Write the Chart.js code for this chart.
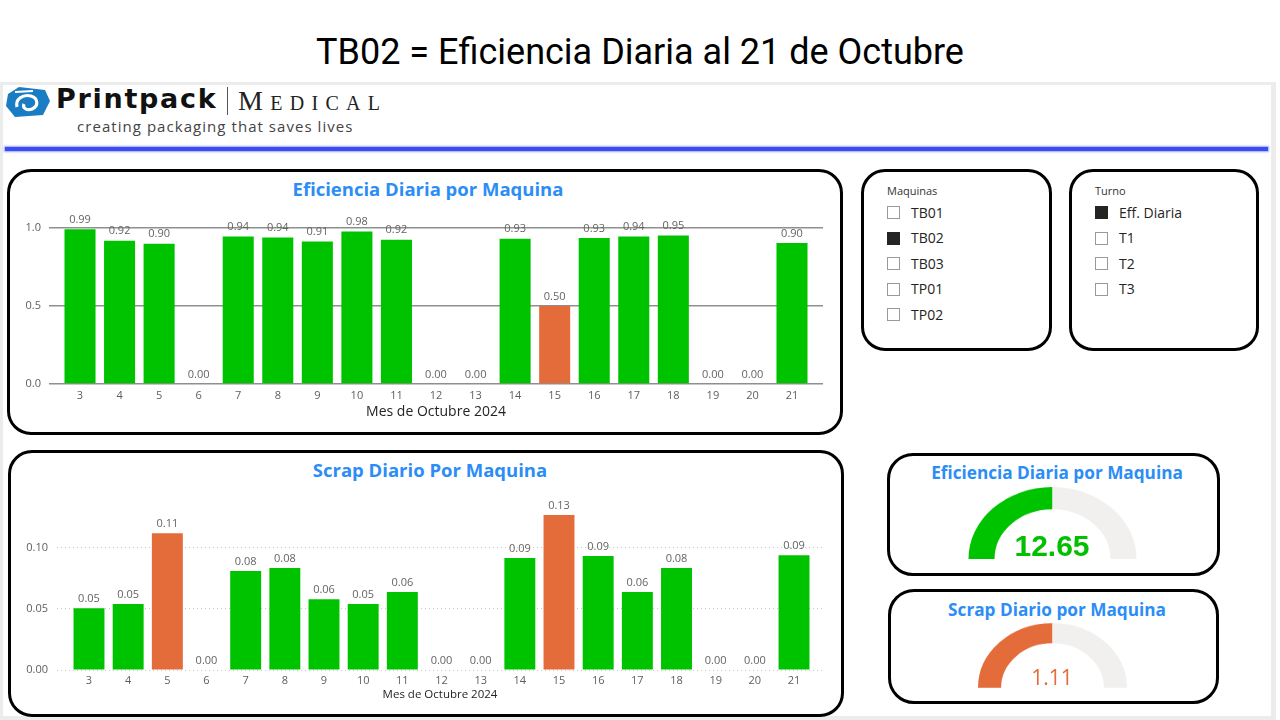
<!DOCTYPE html>
<html><head><meta charset="utf-8">
<script src="https://cdn.jsdelivr.net/npm/chart.js@4.4.1/dist/chart.umd.min.js"></script>
<style>
html,body{margin:0;padding:0;background:#fff;width:1280px;height:720px;overflow:hidden;font-family:"Open Sans",sans-serif;}
.abs{position:absolute;}
#title{left:0;top:28px;width:1280px;text-align:center;font-family:Roboto,sans-serif;font-size:36px;color:#000;line-height:48px;}
#frame{left:0;top:82px;width:1276px;height:638px;background:#ececec;}
#inner{left:3px;top:85px;width:1268px;height:631px;background:#fff;}
#bluebar{left:5px;top:147px;width:1263px;height:4px;background:#3a4cf2;box-shadow:0 0 2px 1px #9aa4f8;}
.panel{position:absolute;border:3px solid #000;border-radius:24px;box-sizing:border-box;background:#fff;}
.ptitle{position:absolute;text-align:center;font-family:"Open Sans",sans-serif;font-weight:bold;color:#2b8df5;white-space:nowrap;}
.slicer-h{position:absolute;font-size:11px;color:#333;}
.item{position:absolute;font-size:14px;color:#252423;line-height:16px;}
.box{position:absolute;width:13px;height:13px;border:1px solid #9c9a98;box-sizing:border-box;background:#fff;}
.box.on{background:#252423;border-color:#252423;}
.gval{position:absolute;text-align:center;white-space:nowrap;}
</style></head>
<body>
<div id="title" class="abs">TB02 = Eficiencia Diaria al 21 de Octubre</div>
<div id="frame" class="abs"></div>
<div id="inner" class="abs"></div>

<!-- logo -->
<svg class="abs" style="left:5px;top:86px" width="46" height="32" viewBox="0 0 46 32">
  <path d="M14 1 L40 4 L45 15 L38 29 L10 31 L1 20 L3 8 Z" fill="#1a7cc2"/>
  <path d="M12 21 C10 13 18 8 26 10 C33 12 34 20 27 23 C22 25 17 22 19 18" fill="none" stroke="#fff" stroke-width="3.2"/>
  <path d="M10 6 L28 5" stroke="#fff" stroke-width="2"/>
</svg>
<div class="abs" style="left:56px;top:83px;font-family:'DejaVu Sans',sans-serif;font-weight:bold;font-size:27px;color:#111;letter-spacing:1.7px;">Printpack</div>
<div class="abs" style="left:227px;top:87px;width:1px;height:28px;background:#555;"></div>
<div class="abs" style="left:238px;top:85px;font-family:'Liberation Serif','DejaVu Serif',serif;font-size:28px;color:#222;font-variant:small-caps;letter-spacing:7.3px;">Medical</div>
<div class="abs" style="left:77px;top:116px;font-size:15px;color:#444;letter-spacing:1.05px;">creating packaging that saves lives</div>
<div id="bluebar" class="abs"></div>

<!-- panels -->
<div class="panel" style="left:7px;top:169px;width:836px;height:266px;"></div>
<div class="panel" style="left:8px;top:450px;width:836px;height:267px;"></div>
<div class="panel" style="left:861px;top:169px;width:191px;height:182px;"></div>
<div class="panel" style="left:1069px;top:169px;width:190px;height:182px;"></div>
<div class="panel" style="left:887px;top:453px;width:333px;height:123px;border-radius:26px;"></div>
<div class="panel" style="left:888px;top:589px;width:331px;height:115px;border-radius:26px;"></div>

<div class="ptitle" style="left:228px;top:176px;width:400px;font-size:18.5px;">Eficiencia Diaria por Maquina</div>
<div class="ptitle" style="left:230px;top:457px;width:400px;font-size:18.5px;">Scrap Diario Por Maquina</div>
<div class="ptitle" style="left:887px;top:461px;width:340px;font-size:17.2px;">Eficiencia Diaria por Maquina</div>
<div class="ptitle" style="left:887px;top:598px;width:340px;font-size:17.2px;">Scrap Diario por Maquina</div>

<div id="slicers"></div>

<div class="abs" style="left:15px;top:200px;width:820px;height:220px;"><canvas id="eff"></canvas></div>
<div class="abs" style="left:15px;top:485px;width:820px;height:217px;"><canvas id="scrap"></canvas></div>

<div class="abs" style="left:968px;top:475px;width:169px;height:84px;transform:scaleY(0.857);transform-origin:50% 100%;"><canvas id="g1" width="169" height="84"></canvas></div>
<div class="abs" style="left:978px;top:613px;width:149px;height:75px;transform:scaleY(0.867);transform-origin:50% 100%;"><canvas id="g2" width="149" height="75"></canvas></div>
<div id="gv1" class="gval" style="left:952px;top:528px;width:200px;font-family:'Liberation Sans',Arial,sans-serif;font-weight:bold;font-size:30px;color:#00c000;line-height:36px;"></div>
<div id="gv2" class="gval" style="left:952px;top:663px;width:200px;font-family:'Open Sans',sans-serif;font-size:21px;color:#e46c3a;line-height:28px;"></div>

<script>
// ---- data ----
const days = [3,4,5,6,7,8,9,10,11,12,13,14,15,16,17,18,19,20,21];
const efficiency = [0.99,0.917,0.898,0,0.944,0.938,0.912,0.976,0.923,0,0,0.929,0.50,0.934,0.944,0.951,0,0,0.902];
const scrap = [0.0505,0.054,0.112,0,0.081,0.0836,0.058,0.054,0.064,0,0,0.0918,0.127,0.0934,0.064,0.0836,0,0,0.094];
const effTicks = [0,0.5,1.0];
const scrapTicks = [0,0.05,0.10];
const gaugeValues = [12.65, 1.11];
const gaugeMax = [25.30, 2.22];
const machines = ["TB01","TB02","TB03","TP01","TP02"];
const machineSelected = ["TB02"];
const shifts = ["Eff. Diaria","T1","T2","T3"];
const shiftSelected = ["Eff. Diaria"];
const xTitle = "Mes de Octubre 2024";

const GREEN = '#00c300', ORANGE = '#e46c3a', GREY = '#f1f0ee';

// slicers
(function(){
  const host = document.getElementById('slicers');
  function build(x, header, list, sel){
    let h = `<div class="slicer-h" style="left:${x}px;top:183px">${header}</div>`;
    list.forEach((t,i)=>{
      const y = 212.5 + i*25.6;
      h += `<div class="box ${sel.includes(t)?'on':''}" style="left:${x}px;top:${(y-6.5).toFixed(1)}px"></div>`;
      h += `<div class="item" style="left:${x+24}px;top:${(y-8).toFixed(1)}px">${t}</div>`;
    });
    return h;
  }
  host.innerHTML = build(887,'Maquinas',machines,machineSelected) + build(1095,'Turno',shifts,shiftSelected);
})();

const valueLabels = {
  id:'valueLabels',
  afterDatasetsDraw(chart){
    const ctx = chart.ctx;
    const ds = chart.data.datasets[0];
    chart.getDatasetMeta(0).data.forEach((bar,i)=>{
      ctx.save();
      ctx.font = '11px "Open Sans", sans-serif';
      ctx.fillStyle = '#666462';
      ctx.textAlign = 'center';
      ctx.textBaseline = 'bottom';
      ctx.fillText(ds.data[i].y.toFixed(2), bar.x, bar.y - 4);
      ctx.restore();
    });
  }
};

function barChart(id, vals, ticks, cfg){
  return new Chart(document.getElementById(id), {
    type:'bar',
    data:{datasets:[{data: days.map((d,i)=>({x:d,y:vals[i]})),
      backgroundColor: c => cfg.isBad(c.raw ? c.raw.y : 0) ? ORANGE : GREEN,
      borderWidth:0, barPercentage:cfg.bp, categoryPercentage:1}]},
    options:{
      responsive:true, maintainAspectRatio:false, animation:false,
      layout:{padding:{top:cfg.padTop,right:12,left:0,bottom:0}},
      plugins:{legend:{display:false},tooltip:{enabled:false}},
      scales:{
        x:{type:'linear',offset:false,min:cfg.xmin,max:cfg.xmax,
          afterBuildTicks: a => { a.ticks = days.map(v=>({value:v})); },
          afterFit: a => { a.height = cfg.xh; a.paddingLeft = 0; a.paddingRight = 0; },
          grid:{display:false,drawTicks:false,tickLength:0}, border:{display:false},
          ticks:{autoSkip:false,maxRotation:0,padding:cfg.xpad,color:'#605e5c',font:{size:11,family:'"Open Sans", sans-serif'},callback:v=>String(v)},
          title:{display:true,text:xTitle,color:'#252423',padding:{top:0,bottom:0},font:{size:cfg.tsize,family:'"Open Sans", sans-serif'}}
        },
        y:{min:0,max:cfg.ymax,
          afterBuildTicks: a => { a.ticks = ticks.map(v=>({value:v})); },
          afterFit: a => { a.width = cfg.yw; a.paddingTop = 0; a.paddingBottom = 0; },
          border:cfg.border,
          grid:cfg.grid,
          ticks:{padding:cfg.ypad,color:'#605e5c',font:{size:11,family:'"Open Sans", sans-serif'},callback:v=>v.toFixed(cfg.dec)}
        }
      }
    },
    plugins:[valueLabels]
  });
}

barChart('eff', efficiency, effTicks, {
  isBad:v=>v>0 && v<0.85, bp:0.785, xmin:2.216, xmax:21.784, ymax:1.12, padTop:9,
  xh:36, xpad:5, tsize:14, yw:34, ypad:8, dec:1,
  grid:{color:'#8f8f8f',lineWidth:1.5,drawTicks:false},
  border:{display:false}
});
barChart('scrap', scrap, scrapTicks, {
  isBad:v=>v>0.1, bp:0.79, xmin:2.183, xmax:21.74, ymax:0.145, padTop:8,
  xh:32, xpad:4, tsize:11.5, yw:42, ypad:9, dec:2,
  grid:{color:'#c8c8c8',lineWidth:1,drawTicks:false},
  border:{display:false,dash:[1,3]}
});

function gauge(id, v, max, color){
  new Chart(document.getElementById(id), {
    type:'doughnut',
    data:{labels:['valor','resto'],datasets:[{data:[v, max - v],backgroundColor:[color, GREY],borderWidth:0}]},
    options:{responsive:false,animation:false,circumference:180,rotation:-90,cutout:'69%',
      plugins:{legend:{display:false},tooltip:{enabled:false}}}
  });
}
gauge('g1', gaugeValues[0], gaugeMax[0], GREEN);
gauge('g2', gaugeValues[1], gaugeMax[1], ORANGE);
document.getElementById('gv1').textContent = gaugeValues[0].toFixed(2);
document.getElementById('gv2').textContent = gaugeValues[1].toFixed(2);
</script>
</body></html>
